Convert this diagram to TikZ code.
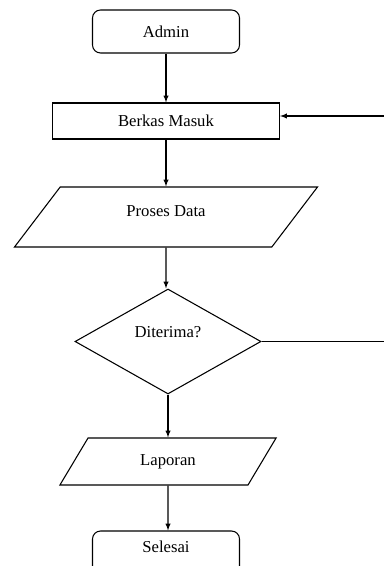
\documentclass[tikz,border=0pt]{standalone}
\usepackage{fontspec}
\setmainfont{Liberation Serif}
\usetikzlibrary{shapes.geometric}

\begin{document}
\begin{tikzpicture}[x=0.75pt,y=-0.75pt,
    line width=0.8pt,
    kotak/.style={draw,inner sep=0pt,font=\fontsize{12.5}{15}\selectfont},
    terminal/.style={kotak,rounded corners=6pt,minimum width=110.25pt,minimum height=32.25pt},
    io/.style={kotak,trapezium,trapezium left angle=56,trapezium right angle=124,trapezium stretches=true},
    keputusan/.style={kotak,diamond,aspect=1.8,minimum width=139.5pt,minimum height=78.75pt},
    naik/.style={text height=9pt,text depth=#1},
    panah/.style={-latex}]
    \clip (0,0) rectangle (384,566);
    \fill[white] (0,0) rectangle (384,566);
    % simbol
    \node[terminal] (admin) at (166,31.5) {Admin};
    \node[kotak,minimum width=170.25pt,minimum height=27pt] (berkas) at (166,121) {Berkas Masuk};
    \node[io,naik=10pt,minimum width=228.75pt,minimum height=45pt] (proses) at (166,217) {Proses Data};
    \node[keputusan,naik=14.5pt] (diterima) at (168,341.5) {Diterima?};
    \node[io,minimum width=162.75pt,minimum height=35.25pt] (laporan) at (168,461.5) {Laporan};
    \node[terminal,naik=8.5pt] (selesai) at (166,552.5) {Selesai};
    \coordinate (balik) at (384,116);
    \coordinate (tepi) at (384,341.5);
    % alur
    \draw[panah] (admin) -- (admin |- berkas.north);
    \draw[panah] (berkas) -- (berkas |- proses.north);
    \draw[panah] (proses) -- (proses |- diterima.north);
    \draw[panah] (diterima) -- (diterima |- laporan.north);
    \draw[panah] (laporan) -- (laporan |- selesai.north);
    \draw[panah] (balik) -- (balik -| berkas.east);
    \draw (diterima.east) -- (tepi);
\end{tikzpicture}
\end{document}
